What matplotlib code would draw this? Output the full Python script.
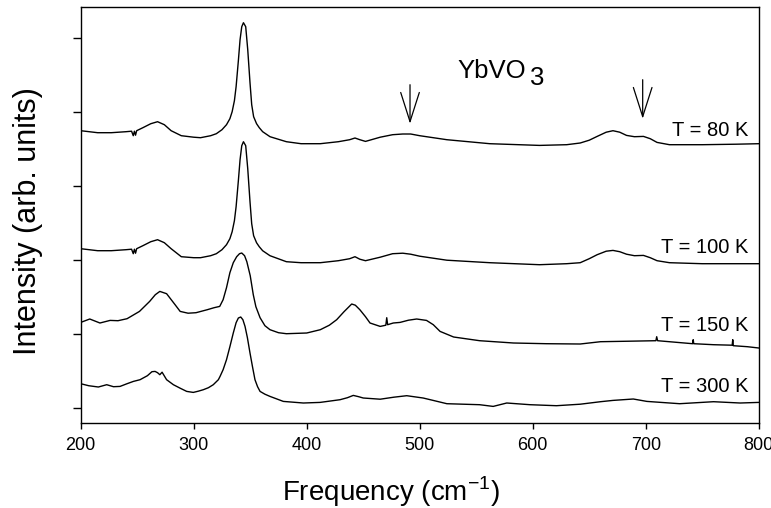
import numpy as np
import matplotlib
matplotlib.use('Agg')
import matplotlib.pyplot as plt

plt.rcParams['font.family'] = ['Liberation Sans', 'DejaVu Sans']

# Raman spectra of YbVO3, stacked (arb. units, offsets included)
f_80 = [200, 215, 227, 240, 245, 246.5, 247.5, 248.5, 249.5, 255, 262, 268, 274, 280, 289, 300, 306, 315,
        320, 325, 329, 332, 334, 336, 337.5, 339.5, 341, 342.5, 344, 346, 347.8, 349.8, 351.3, 353, 355.6,
        358, 361, 367.5, 382,
        395, 412, 428, 438, 442.7, 447, 452, 465, 476, 485, 492, 500, 524, 562, 606, 630, 642, 650, 657,
        665, 671, 677, 683, 690, 698, 704, 710, 721, 750, 780, 800]
i_80 = [292, 290, 290, 291, 291.5, 287, 291.5, 287.5, 292, 295, 299, 301, 298, 292, 287, 285.5, 285, 287,
        289, 293, 298, 304, 311, 322, 336, 362, 383, 396, 400, 396, 373, 340, 318, 306, 299,
        295, 291, 286, 281,
        279, 279, 281, 283, 284.7, 283, 281.3, 285.5, 288, 288.7, 288.7, 287, 283, 279, 277.3, 278, 279.7, 282.5, 286.3,
        290.5, 292, 290.5, 287.3, 286, 286.3, 284, 280.3, 278, 278, 278.5, 279]

f_100 = f_80
i_100 = [174, 172, 172, 173, 173.5, 169, 173.5, 169.5, 174, 177, 181, 183, 180, 174, 166, 165, 165, 167,
         169, 173, 178, 184, 191, 202, 216, 242, 263, 277, 281, 277, 254, 221, 199, 187, 180,
         176, 172, 167, 161,
         160, 160, 162, 164, 166, 163.5, 162, 165.5, 169, 169.5, 168.5, 166.5, 162.5, 160, 158, 159, 160, 164, 168,
         171.5, 172.3, 171, 168.5, 167, 167.3, 165, 162, 160, 159, 159, 159]

f_150 = [200, 208, 217, 226, 233, 241, 252, 261, 266, 270, 276, 283.5, 288, 295, 302, 312, 318, 323, 326,
         329, 332, 335, 338, 340.5, 342.5, 345, 347, 350, 352.7, 355, 358.7, 363, 367.5, 375, 382, 400,
         412, 420, 426.5, 433, 439.8, 443, 447, 452, 456, 465, 470, 470.8, 471.6, 476.6, 482.6, 490,
         497.3, 506, 512, 518, 530, 553, 583, 612, 642, 660, 685, 709, 709.7, 710.5, 741.5, 742, 742.5,
         760, 776.5, 777, 777.5, 790, 800]
i_150 = [100.3, 103.7, 99.7, 102.3, 102, 104, 111.3, 121.3, 128, 131.3, 129, 118, 111.3, 109.5, 110, 113, 115, 116.3, 123,
         135, 150, 160, 166, 169, 169.7, 167, 161, 147, 128, 116, 105, 97, 93, 90, 89, 89.7,
         93, 97.5, 103, 111, 118.7, 117.5, 113, 106, 99.7, 96.3, 97.5, 105, 98, 99.7, 100.3, 102.5,
         103.7, 102.3, 98, 91.3, 85.7, 82, 79.7, 79, 78.7, 81, 81.5, 82, 86, 82, 79, 83, 79,
         78, 77.5, 83, 77, 76, 74.7]

f_300 = [200, 207, 215.6, 223, 229, 234.8, 241, 246.6, 252.5, 259, 263, 265.8, 268, 270, 272, 276, 282,
         288, 293.8, 299.6, 304, 308.5, 313, 317.3, 321.8, 323.3, 326, 329, 332, 335, 337.5, 339.5, 341.6,
         343.5, 345.4, 347.5, 349.8, 352, 354.2, 356.5, 358.7, 363, 367.5, 379.3, 397, 411.8, 429.5, 436,
         441.2, 446, 450, 465, 477, 488.5, 503, 513, 524, 553, 565, 577, 597.6, 621, 642, 660, 671, 689,
         701, 730, 760, 783.5, 800]
i_300 = [39, 37, 35.7, 38, 36, 36.3, 39, 41.3, 43, 47, 51, 51.3, 50, 48, 50.5, 43, 38,
         34.5, 31.3, 30.3, 31.5, 33, 35, 38, 43, 46.3, 53, 63, 76, 89.7, 100, 104.7, 105.7,
         103, 96.3, 85, 69.7, 56, 43, 36, 31.3, 28.5, 26.3, 21.3, 19.7, 20.3, 23, 25,
         27.3, 26, 24.7, 23.5, 25.5, 27, 24.7, 22, 19, 18, 16.3, 19.7, 18, 17, 18.5, 21, 22.3, 23.7,
         21.3, 19, 21, 19.7, 20.3]

spectra = [(f_80, i_80, 'T = 80 K'),
           (f_100, i_100, 'T = 100 K'),
           (f_150, i_150, 'T = 150 K'),
           (f_300, i_300, 'T = 300 K')]
label_y = [287, 170, 92, 31]

fig = plt.figure(figsize=(7.71, 5.08), dpi=100)
ax = fig.add_axes([0.1047, 0.1679, 0.8794, 0.8189])

for (f, i, lab), ly in zip(spectra, label_y):
    ax.plot(f, i, color='black', lw=1.0)
    ax.text(791, ly, lab, ha='right', va='baseline', fontsize=14.5)

ax.text(533, 344.5, 'YbVO', fontsize=18.5, va='baseline')
ax.text(598, 338, '3', fontsize=18.5, va='baseline')

# arrows marking new modes
ax.annotate('', xy=(491.4, 299), xytext=(491.4, 338),
            arrowprops=dict(arrowstyle='->,head_length=21,head_width=6.7', mutation_scale=1,
                            lw=0.9, color='black', shrinkA=0, shrinkB=0))
ax.annotate('', xy=(697.3, 304), xytext=(697.3, 343),
            arrowprops=dict(arrowstyle='->,head_length=21,head_width=6.7', mutation_scale=1,
                            lw=0.9, color='black', shrinkA=0, shrinkB=0))

ax.set_xlim(200, 800)
ax.set_ylim(0, 416)
ax.set_xticks([200, 300, 400, 500, 600, 700, 800])
ax.set_yticks([15, 89, 163, 237, 311, 385])
ax.set_yticklabels([])
ax.tick_params(axis='x', direction='out', length=4, width=1, labelsize=13, pad=6)
ax.tick_params(axis='y', direction='out', length=6, width=1)
for s in ax.spines.values():
    s.set_linewidth(1.0)

ax.set_xlabel('Frequency (cm$^{\\mathregular{-1}}$)', fontsize=20)
ax.xaxis.set_label_coords(0.458, -0.125)
ax.set_ylabel('Intensity (arb. units)', fontsize=22)
ax.yaxis.set_label_coords(-0.055, 0.485)

fig.savefig('out.png', dpi=100)
